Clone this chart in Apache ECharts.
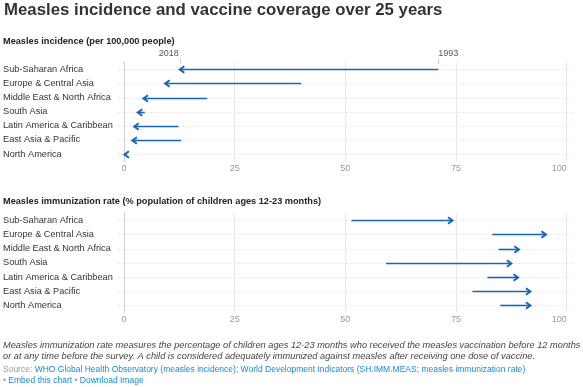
<!DOCTYPE html>
<html><head><meta charset="utf-8">
<script src="https://cdn.jsdelivr.net/npm/echarts@6/dist/echarts.min.js"></script>
<style>html,body{margin:0;padding:0;background:#fff}#c{width:583px;height:387px}</style>
</head><body><div id="c"></div>
<script>
const categories = ['Sub-Saharan Africa','Europe & Central Asia','Middle East & North Africa','South Asia','Latin America & Caribbean','East Asia & Pacific','North America'];
const years = ['1993', '2018'];
const incidence1993 = [71.0, 40.0, 18.8, 4.7, 12.3, 12.9, 0.6];
const incidence2018 = [12.6, 9.3, 4.4, 3.1, 2.3, 1.9, 0.1];
const immunization1993 = [51.4, 83.2, 84.6, 59.2, 82.1, 78.7, 85.0];
const immunization2018 = [74.2, 95.3, 89.2, 87.5, 89.0, 91.8, 91.8];
const axisMin = 0, axisMax = 100, axisStep = 25;

const BLUE = '#1565c0';
const FONT = '"Liberation Sans", Arial, sans-serif';

function arrowRender(params, api) {
  const cs = params.coordSys;
  const idx = api.value(1);
  const p0 = api.coord([api.value(0), idx]);
  const p1 = api.coord([api.value(2), idx]);
  const dir = p1[0] >= p0[0] ? 1 : -1;
  const hl = 4.5, hw = 3.2;
  const y = Math.round(p0[1]) + 0.5;
  return {type: 'group', children: [
    {type: 'line', shape: {x1: cs.x - 6, y1: y, x2: cs.x + cs.width + 5, y2: y},
     style: {stroke: '#e8e8e8', lineWidth: 1, lineDash: [2, 2]}, z2: 0},
    {type: 'line', shape: {x1: p0[0], y1: y, x2: p1[0] - dir * 0.8, y2: y},
     style: {stroke: BLUE, lineWidth: 1.6}, z2: 2},
    {type: 'polyline', shape: {points: [[p1[0] - dir * hl, y - hw], [p1[0], y], [p1[0] - dir * hl, y + hw]]},
     style: {stroke: BLUE, lineWidth: 2, fill: null, lineJoin: 'miter'}, z2: 3}
  ]};
}

const yearLabels = [
  {value: incidence2018[0], text: years[1], align: 'right'},
  {value: incidence1993[0], text: years[0], align: 'left'}
];
function yearRender(params, api) {
  const p = api.coord([api.value(0), api.value(1)]);
  const lab = yearLabels[params.dataIndex];
  const x = Math.round(p[0]) + 0.5;
  return {type: 'group', children: [
    {type: 'line', shape: {x1: x, y1: p[1] - 10.5, x2: x, y2: p[1] - 5.5}, style: {stroke: '#cccccc', lineWidth: 1}},
    {type: 'text', style: {x: lab.align === 'right' ? p[0] - 1 : p[0], y: p[1] - 15.5, text: lab.text,
      textAlign: lab.align, textVerticalAlign: 'middle', fill: '#555', font: '9px ' + FONT}}
  ]};
}

function xAx(gi) {
  return {type: 'value', gridIndex: gi, min: axisMin, max: axisMax, interval: axisStep,
    axisLine: {show: false}, axisTick: {show: false},
    axisLabel: {color: '#999', fontSize: 9, fontFamily: FONT, margin: 3, alignMaxLabel: 'right'},
    splitLine: {show: true, lineStyle: {color: '#e8e8e8', width: 1}}};
}
function yAx(gi) {
  return {type: 'category', gridIndex: gi, data: categories, inverse: true,
    axisLine: {show: true, lineStyle: {color: '#cccccc', width: 1}}, axisTick: {show: false},
    axisLabel: {align: 'left', margin: 121, color: '#333', fontSize: 9.2, fontFamily: FONT},
    splitLine: {show: false}};
}

const incData = categories.map((c, i) => [incidence1993[i], i, incidence2018[i]]);
const immData = categories.map((c, i) => [immunization1993[i], i, immunization2018[i]]);

function txt(x, y, text, font, fill, rich) {
  const style = {x: 0, y: 0, text: text, font: font, fill: fill, textVerticalAlign: 'middle', textAlign: 'left'};
  if (rich) style.rich = rich;
  return {type: 'text', x: x, y: y, style: style};
}
const linkRich = {g: {fill: '#999', font: '8.5px ' + FONT}, b: {fill: '#1a8ad4', font: '8.5px ' + FONT}};

const chart = echarts.init(document.getElementById('c'), null, {renderer: 'canvas'});
chart.setOption({
  animation: false,
  backgroundColor: '#fff',
  grid: [
    {left: 124, right: 16.3, top: 62.2, height: 98.9},
    {left: 124, right: 16.3, top: 213.2, height: 99.2}
  ],
  xAxis: [xAx(0), xAx(1)],
  yAxis: [yAx(0), yAx(1)],
  series: [
    {type: 'custom', xAxisIndex: 0, yAxisIndex: 0, renderItem: arrowRender, data: incData, encode: {x: [0, 2], y: 1}},
    {type: 'custom', xAxisIndex: 1, yAxisIndex: 1, renderItem: arrowRender, data: immData, encode: {x: [0, 2], y: 1}},
    {type: 'custom', xAxisIndex: 0, yAxisIndex: 0, renderItem: yearRender, data: yearLabels.map(l => [l.value, 0]), encode: {x: 0, y: 1}}
  ],
  graphic: [
    txt(4, 10.5, 'Measles incidence and vaccine coverage over 25 years', 'bold 16.8px ' + FONT, '#333'),
    txt(3, 41.5, 'Measles incidence (per 100,000 people)', 'bold 9.2px ' + FONT, '#222'),
    txt(3, 201.5, 'Measles immunization rate (% population of children ages 12-23 months)', 'bold 9.2px ' + FONT, '#222'),
    txt(3, 345, 'Measles immunization rate measures the percentage of children ages 12-23 months who received the measles vaccination before 12 months', 'italic 9.25px ' + FONT, '#444'),
    txt(3, 356, 'or at any time before the survey. A child is considered adequately immunized against measles after receiving one dose of vaccine.', 'italic 9.25px ' + FONT, '#444'),
    txt(3, 370, '{g|Source: }{b|WHO Global Health Observatory (measles incidence); World Development Indicators (SH.IMM.MEAS; measles immunization rate)}', '8.5px ' + FONT, '#999', linkRich),
    txt(3, 380.5, '{g|• }{b|Embed this chart}{g| • }{b|Download Image}', '8.5px ' + FONT, '#999', linkRich)
  ]
});
</script></body></html>
